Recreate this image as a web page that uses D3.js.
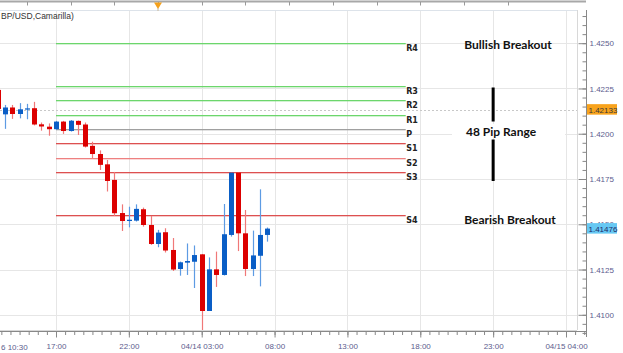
<!DOCTYPE html>
<html><head><meta charset="utf-8">
<script src="https://cdn.jsdelivr.net/npm/d3@7"></script>
<style>html,body{margin:0;padding:0;background:#fff;overflow:hidden}svg{display:block}</style>
</head><body><svg id="c" width="623" height="353"></svg>
<script>
// ---- data ----
const candleTimes = ["2016-04-13 13:00","2016-04-13 13:30","2016-04-13 14:00","2016-04-13 14:30","2016-04-13 15:00","2016-04-13 15:30","2016-04-13 16:00","2016-04-13 16:30","2016-04-13 17:00","2016-04-13 17:30","2016-04-13 18:00","2016-04-13 18:30","2016-04-13 19:00","2016-04-13 19:30","2016-04-13 20:00","2016-04-13 20:30","2016-04-13 21:00","2016-04-13 21:30","2016-04-13 22:00","2016-04-13 22:30","2016-04-13 23:00","2016-04-13 23:30","2016-04-14 00:00","2016-04-14 00:30","2016-04-14 01:00","2016-04-14 01:30","2016-04-14 02:00","2016-04-14 02:30","2016-04-14 03:00","2016-04-14 03:30","2016-04-14 04:00","2016-04-14 04:30","2016-04-14 05:00","2016-04-14 05:30","2016-04-14 06:00","2016-04-14 06:30","2016-04-14 07:00","2016-04-14 07:30"];
const opens  = [1.42242,1.42107,1.42145,1.42109,1.42134,1.42141,1.42052,1.42039,1.42025,1.42067,1.42015,1.42071,1.42051,1.41933,1.41888,1.41831,1.41745,1.41562,1.41518,1.41520,1.41583,1.41496,1.41391,1.41456,1.41358,1.41253,1.41288,1.41293,1.41334,1.41021,1.41251,1.41220,1.41441,1.41785,1.41450,1.41253,1.41326,1.41441];
const highs  = [1.42253,1.42159,1.42159,1.42169,1.42165,1.42176,1.42062,1.42057,1.42071,1.42071,1.42076,1.42073,1.42062,1.41956,1.41908,1.41855,1.41789,1.41610,1.41597,1.41610,1.41592,1.41546,1.41469,1.41478,1.41424,1.41294,1.41394,1.41383,1.41336,1.41317,1.41349,1.41612,1.41785,1.41785,1.41579,1.41465,1.41693,1.41482];
const lows   = [1.42120,1.42027,1.42082,1.42085,1.42080,1.42046,1.42017,1.41989,1.42021,1.41999,1.42012,1.41993,1.41924,1.41866,1.41800,1.41681,1.41546,1.41463,1.41483,1.41515,1.41487,1.41386,1.41373,1.41344,1.41242,1.41216,1.41220,1.41148,1.40916,1.41021,1.41154,1.41217,1.41432,1.41352,1.41214,1.41214,1.41157,1.41404];
const closes = [1.42137,1.42145,1.42109,1.42135,1.42140,1.42051,1.42040,1.42025,1.42067,1.42015,1.42072,1.42049,1.41929,1.41888,1.41828,1.41739,1.41561,1.41518,1.41525,1.41585,1.41496,1.41391,1.41454,1.41355,1.41250,1.41290,1.41297,1.41330,1.41021,1.41251,1.41220,1.41445,1.41785,1.41450,1.41253,1.41328,1.41441,1.41476];

const levelNames  = ["R4","R3","R2","R1","P","S1","S2","S3","S4"];
const levelValues = [1.42502,1.42264,1.42186,1.42106,1.42027,1.41947,1.41868,1.41788,1.41551];
const levelStart = "2016-04-13 17:00";
const levelEnd   = "2016-04-14 17:00";

const yTickValues = [1.4100,1.4125,1.4150,1.4175,1.4200,1.4225,1.4250];
const yTickLabels = ["1.4100","1.4125","1.4150","1.4175","1.4200","1.4225","1.4250"];
const xTickTimes  = ["2016-04-13 17:00","2016-04-13 22:00","2016-04-14 03:00","2016-04-14 08:00","2016-04-14 13:00","2016-04-14 18:00","2016-04-14 23:00","2016-04-15 04:00"];
const xTickLabels = ["17:00","22:00","04/14 03:00","08:00","13:00","18:00","23:00","04/15 04:00"];
const firstXLabel = "6 10:30";
const title = "BP/USD,Camarilla)";
const currentPrice = 1.42133, currentLabel = "1.42133";
const lastPrice = 1.41476, lastLabel = "1.41476";
const markerTime = "2016-04-14 00:00";
const annotations = ["Bullish Breakout","48 Pip Range","Bearish Breakout"];

// ---- scales ----
const parse = d3.timeParse("%Y-%m-%d %H:%M");
const x = d3.scaleTime().domain([parse("2016-04-13 17:00"), parse("2016-04-15 04:00")]).range([56, 566]);
const y = d3.scaleLinear().domain([1.4100, 1.4250]).range([314.8, 43.2]);

const svg = d3.select("#c");
const PL = 0, PR = 577, PT = 10, PB = 330;
const axisFont = "Liberation Sans, Arial, sans-serif";
const axisColor = "#5c5c8e";

svg.append("rect").attr("width",623).attr("height",353).attr("fill","#fff");

// gridlines
const grid = svg.append("g").attr("shape-rendering","crispEdges");
yTickValues.forEach(v => grid.append("line").attr("x1",PL).attr("x2",PR).attr("y1",Math.round(y(v))+0.5).attr("y2",Math.round(y(v))+0.5).attr("stroke","#e6e6e6"));
xTickTimes.forEach(t => { const xx = Math.round(x(parse(t)))+0.5; grid.append("line").attr("x1",xx).attr("x2",xx).attr("y1",PT).attr("y2",PB).attr("stroke","#e6e6e6"); });

// frame
svg.append("line").attr("x1",0).attr("x2",PR).attr("y1",PT+0.5).attr("y2",PT+0.5).attr("stroke","#dde3ea");
svg.append("line").attr("x1",PR+0.5).attr("x2",PR+0.5).attr("y1",PT).attr("y2",PB).attr("stroke","#d8d8d8");
svg.append("line").attr("x1",0).attr("x2",PR).attr("y1",PB+0.5).attr("y2",PB+0.5).attr("stroke","#d8d8d8");

// top axis
svg.append("line").attr("x1",0).attr("x2",586).attr("y1",1.5).attr("y2",1.5).attr("stroke","#a8a8a8").attr("stroke-width",2);
const topTicks = d3.range(-2, 11).map(k => d3.timeHour.offset(parse("2016-04-13 18:00"), k*3));
topTicks.forEach(t => { const xx = Math.round(x(t))+0.5; svg.append("line").attr("x1",xx).attr("x2",xx).attr("y1",2).attr("y2",5.5).attr("stroke","#999"); });
const mx = x(parse(markerTime));
svg.append("path").attr("d",`M${mx-4},2.5L${mx+4},2.5L${mx},9Z`).attr("fill","#f5a11c");
svg.append("line").attr("x1",mx).attr("x2",mx).attr("y1",8).attr("y2",11).attr("stroke","#c9b89a");

// title
svg.append("text").attr("x",1).attr("y",19).attr("font-family",axisFont).attr("font-size",8.5).attr("fill","#333").text(title);

// current price dotted line
const cy = Math.round(y(currentPrice))+0.5;
svg.append("line").attr("x1",0).attr("x2",PR).attr("y1",cy).attr("y2",cy).attr("stroke","#c8c8c8").attr("stroke-dasharray","2,2");

// level lines
const levelColor = n => (n.charAt(0) === "R") ? "#6cd66c" : (n === "P" ? "#a0a0a0" : (n === "S2" ? "#ee8080" : "#dd5050"));
const lx1 = x(parse(levelStart)), lx2 = x(parse(levelEnd));
const lg = svg.append("g");
levelNames.forEach((n,i) => {
  const yy = Math.round(y(levelValues[i]));
  lg.append("rect").attr("x",lx1).attr("y",yy).attr("width",lx2-lx1).attr("height",1.3).attr("fill",levelColor(n));
  lg.append("text").attr("x",lx2+0.5).attr("y",yy+7.5).attr("font-family","DejaVu Sans, sans-serif").attr("font-weight","bold").attr("font-size",8).attr("fill","#222").text(n);
});

// candles
const cg = svg.append("g");
candleTimes.forEach((t,i) => {
  const xx = x(parse(t));
  const up = closes[i] >= opens[i];
  const wc = up ? "#5d9be3" : "#f07878";
  const bc = up ? "#0a5ec6" : "#dc0000";
  cg.append("line").attr("x1",Math.round(xx)+0.5).attr("x2",Math.round(xx)+0.5).attr("y1",y(highs[i])).attr("y2",y(lows[i])).attr("stroke",wc).attr("stroke-width",1.2);
  const top = y(Math.max(opens[i],closes[i])), bot = y(Math.min(opens[i],closes[i]));
  cg.append("rect").attr("x",Math.round(xx)-2).attr("y",top).attr("width",5).attr("height",Math.max(1.2,bot-top)).attr("fill",bc);
});

// annotations
const af = "Lato, 'Open Sans', sans-serif";
svg.append("text").attr("x",508).attr("y",49).attr("text-anchor","middle").attr("font-family",af).attr("font-weight","bold").attr("font-size",12).attr("fill","#111").text(annotations[0]);
svg.append("rect").attr("x",452).attr("y",124).attr("width",113).attr("height",14).attr("fill","#fff");
svg.append("text").attr("x",501).attr("y",135.5).attr("text-anchor","middle").attr("font-family",af).attr("font-weight","bold").attr("font-size",12).attr("fill","#111").text(annotations[1]);
svg.append("text").attr("x",510).attr("y",223.5).attr("text-anchor","middle").attr("font-family",af).attr("font-weight","bold").attr("font-size",12).attr("fill","#111").text(annotations[2]);
const bx = x(parse("2016-04-14 23:00"));
svg.append("rect").attr("x",bx-1.5).attr("y",87.5).attr("width",3).attr("height",34).attr("fill","#000");
svg.append("rect").attr("x",bx-1.5).attr("y",139.5).attr("width",3).attr("height",41.5).attr("fill","#000");

// right axis
const ra = svg.append("g").attr("transform","translate(586.5,0)");
const minorY = d3.range(0, 37).map(k => 1.4085 + k*0.0005).filter(v => y(v) > PT && y(v) < 337);
ra.call(d3.axisRight(y).tickValues(minorY).tickSizeInner(-4).tickSizeOuter(0).tickFormat(""));
const raMajor = svg.append("g").attr("transform","translate(586.5,0)");
raMajor.call(d3.axisRight(y).tickValues(yTickValues).tickSizeInner(-8).tickSizeOuter(0).tickPadding(3).tickFormat((d,i)=>yTickLabels[i]));
[ra, raMajor].forEach(g => { g.select(".domain").remove(); g.selectAll("line").attr("stroke","#888"); });
raMajor.selectAll("text").attr("font-family",axisFont).attr("font-size",8).attr("fill",axisColor);
svg.append("line").attr("x1",586.5).attr("x2",586.5).attr("y1",PT).attr("y2",337).attr("stroke","#888");

// price boxes
const pbox = (v, lab, fill, tc) => {
  const yy = y(v);
  svg.append("rect").attr("x",587).attr("y",yy-5.5).attr("width",30).attr("height",10.5).attr("fill",fill);
  svg.append("text").attr("x",588.5).attr("y",yy+3).attr("font-family",axisFont).attr("font-size",8).attr("fill",tc).text(lab);
};
pbox(currentPrice, currentLabel, "#f8a31c", "#3a3a3a");
pbox(lastPrice, lastLabel, "#66c8f3", "#1f2a6a");

// bottom axis
const ba = svg.append("g").attr("transform","translate(0,331.5)");
const step = (x(parse("2016-04-13 22:00")) - x(parse("2016-04-13 17:00"))) / 8;
const minorX = d3.range(-7, 66).map(k => x.invert(56 + k*step)).filter(t => x(t) >= 0 && x(t) <= 586);
ba.call(d3.axisBottom(x).tickValues(minorX).tickSizeInner(3.5).tickSizeOuter(0).tickFormat(""));
const baMajor = svg.append("g").attr("transform","translate(0,331.5)");
baMajor.call(d3.axisBottom(x).tickValues(xTickTimes.map(parse)).tickSizeInner(6).tickSizeOuter(0).tickPadding(6).tickFormat((d,i)=>xTickLabels[i]));
[ba, baMajor].forEach(g => { g.select(".domain").remove(); g.selectAll("line").attr("stroke","#888"); });
baMajor.selectAll("text").attr("font-family",axisFont).attr("font-size",8).attr("fill",axisColor);
svg.append("line").attr("x1",0).attr("x2",587).attr("y1",331.5).attr("y2",331.5).attr("stroke","#888");
svg.append("text").attr("x",1).attr("y",349.5).attr("font-family",axisFont).attr("font-size",8).attr("fill",axisColor).text(firstXLabel);
</script></body></html>
